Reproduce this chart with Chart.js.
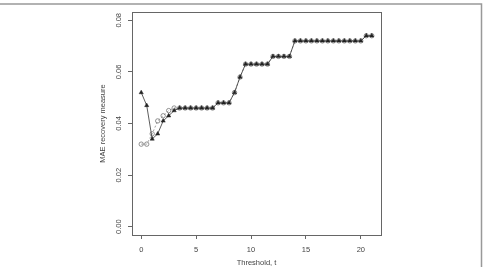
<!DOCTYPE html>
<html>
<head>
<meta charset="utf-8">
<script src="https://cdn.jsdelivr.net/npm/chart.js@4"></script>
<style>
  html, body { margin: 0; padding: 0; background: #fff; }
  #wrap { width: 485px; height: 267px; }
</style>
</head>
<body>
<div id="wrap"><canvas id="chart" width="485" height="267"></canvas></div>
<script>
// threshold values t (x axis)
const thresholds = [0, 0.5, 1, 1.5, 2, 2.5, 3, 3.5, 4, 4.5, 5, 5.5, 6, 6.5, 7, 7.5, 8, 8.5, 9, 9.5,
  10, 10.5, 11, 11.5, 12, 12.5, 13, 13.5, 14, 14.5, 15, 15.5, 16, 16.5, 17, 17.5, 18, 18.5, 19, 19.5,
  20, 20.5, 21];
// filled triangles, solid line
const triangleValues = [0.052, 0.047, 0.034, 0.036, 0.041, 0.043, 0.045, 0.046, 0.046, 0.046,
  0.046, 0.046, 0.046, 0.046, 0.048, 0.048, 0.048, 0.052, 0.058, 0.063,
  0.063, 0.063, 0.063, 0.063, 0.066, 0.066, 0.066, 0.066, 0.072, 0.072,
  0.072, 0.072, 0.072, 0.072, 0.072, 0.072, 0.072, 0.072, 0.072, 0.072,
  0.072, 0.074, 0.074];
// open circles, dotted line
const circleValues = [0.032, 0.032, 0.036, 0.041, 0.043, 0.045, 0.046, 0.046, 0.046, 0.046,
  0.046, 0.046, 0.046, 0.046, 0.048, 0.048, 0.048, 0.052, 0.058, 0.063,
  0.063, 0.063, 0.063, 0.063, 0.066, 0.066, 0.066, 0.066, 0.072, 0.072,
  0.072, 0.072, 0.072, 0.072, 0.072, 0.072, 0.072, 0.072, 0.072, 0.072,
  0.072, 0.074, 0.074];
const xTicks = [0, 5, 10, 15, 20];
const yTicks = [0, 0.02, 0.04, 0.06, 0.08];

const FONT = 'Liberation Sans, Arial, Helvetica, sans-serif';
const TEXT = '#444';

function pts(ys) {
  return thresholds.map((t, i) => ({ x: t, y: ys[i] }));
}

// box around the plot, outer frame lines and rotated y labels (R style)
const rStyle = {
  id: 'rStyle',
  afterDraw(chart) {
    const ctx = chart.ctx;
    const a = chart.chartArea;
    const ys = chart.scales.y;
    ctx.save();
    ctx.strokeStyle = '#666';
    ctx.lineWidth = 1;
    ctx.strokeRect(Math.round(a.left) + 0.5, Math.round(a.top) + 0.5,
      Math.round(a.right - a.left), Math.round(a.bottom - a.top));

    ctx.strokeStyle = '#999';
    ctx.lineWidth = 1.5;
    ctx.beginPath();
    ctx.moveTo(0, 4);
    ctx.lineTo(481.5, 4);
    ctx.lineTo(481.5, 267);
    ctx.stroke();

    ctx.fillStyle = TEXT;
    ctx.font = '7.5px ' + FONT;
    ctx.textAlign = 'center';
    ctx.textBaseline = 'middle';
    yTicks.forEach(v => {
      const py = ys.getPixelForValue(v);
      ctx.save();
      ctx.translate(119, py);
      ctx.rotate(-Math.PI / 2);
      ctx.fillText(v.toFixed(2), 0, 0);
      ctx.restore();
    });
    ctx.save();
    ctx.translate(103, (a.top + a.bottom) / 2);
    ctx.rotate(-Math.PI / 2);
    ctx.fillText('MAE recovery measure', 0, 0);
    ctx.restore();
    ctx.restore();
  }
};

new Chart(document.getElementById('chart'), {
  type: 'line',
  data: {
    datasets: [
      {
        label: 'triangles',
        data: pts(triangleValues),
        borderColor: '#333',
        borderWidth: 0.8,
        backgroundColor: '#222',
        pointStyle: 'triangle',
        pointRadius: 2.4,
        pointBorderWidth: 0.5,
        pointBorderColor: '#222',
        tension: 0
      },
      {
        label: 'circles',
        data: pts(circleValues),
        borderColor: '#888',
        borderWidth: 0.8,
        borderDash: [2, 2],
        backgroundColor: 'rgba(0,0,0,0)',
        pointStyle: 'circle',
        pointRadius: 2.2,
        pointBorderWidth: 0.8,
        pointBorderColor: '#777',
        tension: 0
      }
    ]
  },
  options: {
    responsive: false,
    animation: false,
    layout: { padding: { left: 0, top: 12, right: 104, bottom: 0 } },
    plugins: {
      legend: { display: false },
      tooltip: { enabled: false },
      title: { display: false }
    },
    scales: {
      x: {
        type: 'linear',
        min: -0.84,
        max: 21.84,
        afterBuildTicks: s => { s.ticks = xTicks.map(v => ({ value: v })); },
        afterFit: s => { s.height = 32; },
        grid: { drawOnChartArea: false, drawTicks: true, tickLength: 4, color: '#666' },
        border: { display: false },
        ticks: {
          color: TEXT,
          font: { family: FONT, size: 7.5 },
          padding: 6,
          maxRotation: 0,
          callback: v => String(v)
        },
        title: {
          display: true,
          text: 'Threshold, t',
          color: TEXT,
          font: { family: FONT, size: 7.5 },
          padding: { top: 0, bottom: 0 }
        }
      },
      y: {
        type: 'linear',
        min: -0.0032,
        max: 0.0832,
        afterBuildTicks: s => { s.ticks = yTicks.map(v => ({ value: v })); },
        afterFit: s => { s.width = 132; },
        grid: { drawOnChartArea: false, drawTicks: true, tickLength: 4, color: '#666' },
        border: { display: false },
        ticks: { display: false }
      }
    }
  },
  plugins: [rStyle]
});
</script>
</body>
</html>
